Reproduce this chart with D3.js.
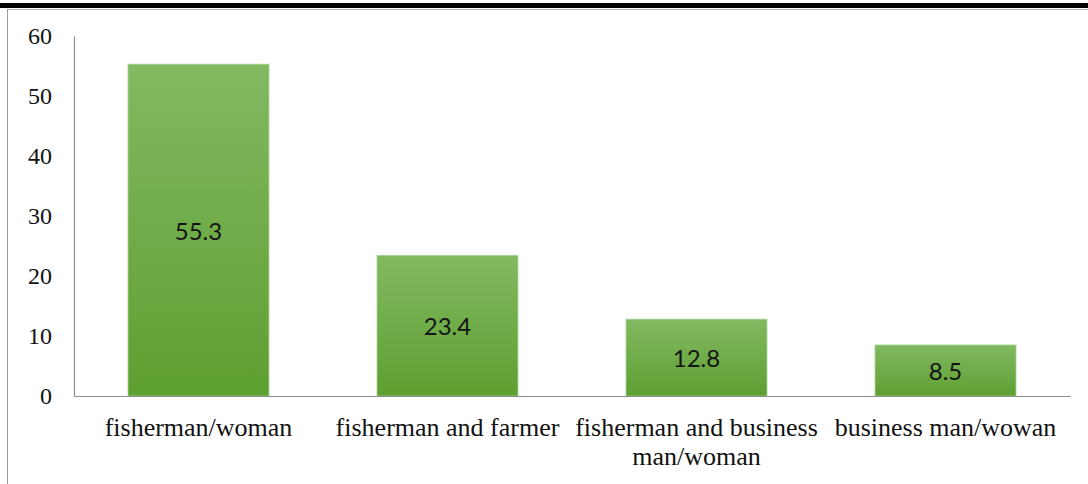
<!DOCTYPE html>
<html>
<head>
<meta charset="utf-8">
<script src="https://cdn.jsdelivr.net/npm/d3@7"></script>
<style>
  html, body { margin: 0; padding: 0; background: #fff; }
  svg { display: block; }
</style>
</head>
<body>
<svg id="chart" width="1088" height="484"></svg>
<script>
// Occupation categories and their shares (%)
const categories = [
  "fisherman/woman",
  "fisherman and farmer",
  "fisherman and business man/woman",
  "business man/wowan"
];
const values = [55.3, 23.4, 12.8, 8.5];
const yTicks = [0, 10, 20, 30, 40, 50, 60];

const W = 1088, H = 484;
const margin = { top: 36, right: 18, bottom: 88, left: 74 };
const svg = d3.select("#chart");

// Frame: heavy black rule at top, thin grey rule beneath, grey left edge
svg.append("rect").attr("x", 0).attr("y", 3).attr("width", W).attr("height", 5).attr("fill", "#000");
svg.append("line").attr("x1", 7).attr("x2", W).attr("y1", 9.5).attr("y2", 9.5)
  .attr("stroke", "#b4b4b4").attr("stroke-width", 1);
svg.append("line").attr("x1", 7.5).attr("x2", 7.5).attr("y1", 9).attr("y2", H)
  .attr("stroke", "#9a9a9a").attr("stroke-width", 1);

const x = d3.scaleBand()
  .domain(categories)
  .range([margin.left, W - margin.right])
  .paddingInner(0.434)
  .paddingOuter(0.217);

const y = d3.scaleLinear()
  .domain([0, 60])
  .range([H - margin.bottom, margin.top]);

// Vertical green gradient for the bars
const defs = svg.append("defs");
const grad = defs.append("linearGradient")
  .attr("id", "barGrad").attr("x1", 0).attr("y1", 0).attr("x2", 0).attr("y2", 1);
grad.append("stop").attr("offset", "0%").attr("stop-color", "#82b962");
grad.append("stop").attr("offset", "100%").attr("stop-color", "#5e9f31");

// Bars
svg.append("g").selectAll("rect")
  .data(values)
  .join("rect")
  .attr("x", (d, i) => x(categories[i]))
  .attr("y", d => y(d))
  .attr("width", x.bandwidth())
  .attr("height", d => y(0) - y(d))
  .attr("fill", "url(#barGrad)")
  .attr("stroke", "#9fd08a")
  .attr("stroke-width", 0.8);

// Value labels centred in each bar
svg.append("g").selectAll("text")
  .data(values)
  .join("text")
  .attr("x", (d, i) => x(categories[i]) + x.bandwidth() / 2)
  .attr("y", d => (y(d) + y(0)) / 2)
  .attr("text-anchor", "middle")
  .attr("dominant-baseline", "central")
  .attr("font-family", "Lato, 'Open Sans', sans-serif")
  .attr("font-size", 24)
  .attr("fill", "#141414")
  .text(d => d3.format(".1f")(d));

// Y axis
const yAxis = svg.append("g")
  .attr("transform", `translate(${margin.left},0)`)
  .call(d3.axisLeft(y).tickValues(yTicks).tickSize(0).tickSizeOuter(0).tickPadding(22));
yAxis.select(".domain").attr("stroke", "#8c8c8c").attr("stroke-width", 1.2);
yAxis.selectAll("text")
  .attr("font-family", "'Liberation Serif', 'Times New Roman', serif")
  .attr("font-size", 24)
  .attr("fill", "#111")
  .attr("dy", "0.32em");

// X axis baseline and wrapped category labels
const xAxis = svg.append("g")
  .attr("transform", `translate(0,${y(0)})`)
  .call(d3.axisBottom(x).tickSize(0).tickSizeOuter(0).tickPadding(0));
xAxis.select(".domain").attr("stroke", "#8c8c8c").attr("stroke-width", 1.2);
xAxis.selectAll("text")
  .attr("font-family", "'Liberation Serif', 'Times New Roman', serif")
  .attr("font-size", 26)
  .attr("fill", "#111")
  .attr("y", 40)
  .attr("dy", 0)
  .call(wrap, x.step());

function wrap(sel, width) {
  sel.each(function () {
    const text = d3.select(this);
    const words = text.text().split(/\s+/);
    const yPos = text.attr("y");
    text.text(null);
    let line = [];
    let lineNo = 0;
    let tspan = text.append("tspan").attr("x", 0).attr("y", yPos).attr("dy", 0);
    for (const w of words) {
      line.push(w);
      tspan.text(line.join(" "));
      if (tspan.node().getComputedTextLength() > width - 6 && line.length > 1) {
        line.pop();
        tspan.text(line.join(" "));
        line = [w];
        lineNo++;
        tspan = text.append("tspan").attr("x", 0).attr("y", yPos)
          .attr("dy", lineNo * 1.13 + "em").text(w);
      }
    }
  });
}
</script>
</body>
</html>
